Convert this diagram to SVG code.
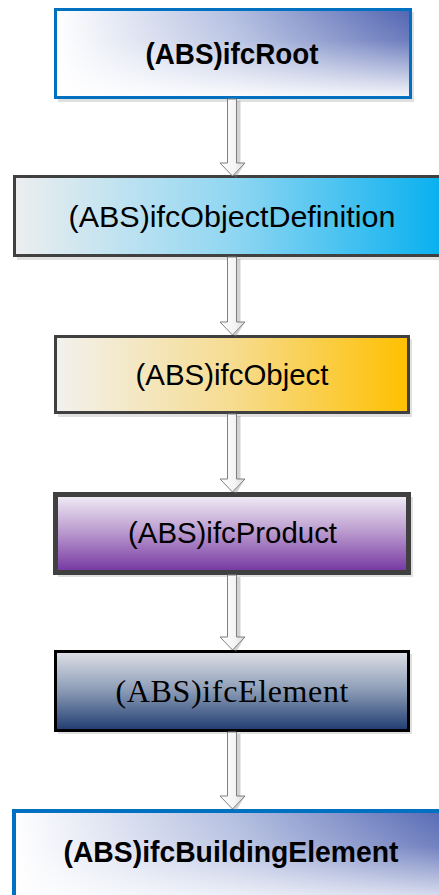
<svg xmlns="http://www.w3.org/2000/svg" width="439" height="895" viewBox="0 0 439 895">
  <style>
    .lbl { font-family: "Liberation Sans", Arial, sans-serif; font-size: 30px; fill: #000; text-anchor: middle; }
    .bold { font-weight: bold; font-size: 29px; }
    .serif { font-family: "Liberation Serif", "Times New Roman", serif; font-size: 32px; }
    .shadow { fill: #000; opacity: 0.12; }
    .arrow { fill: url(#gArrow); stroke: #7F7F7F; stroke-width: 1; }
    .ashadow { fill: #7F7F7F; opacity: 0.35; }
  </style>
  <defs>
    <linearGradient id="gBlueH" x1="0" y1="0" x2="1" y2="0">
      <stop offset="0" stop-color="#FFFFFF"/>
      <stop offset="0.5" stop-color="#B3BEE0"/>
      <stop offset="1" stop-color="#5265B2"/>
    </linearGradient>
    <linearGradient id="gWhiteV" x1="0" y1="0" x2="0" y2="1">
      <stop offset="0" stop-color="#FFFFFF" stop-opacity="0"/>
      <stop offset="0.35" stop-color="#FFFFFF" stop-opacity="0.15"/>
      <stop offset="1" stop-color="#FFFFFF" stop-opacity="0.95"/>
    </linearGradient>
    <linearGradient id="gCyan" x1="0" y1="0" x2="1" y2="0">
      <stop offset="0" stop-color="#ECEEEF"/>
      <stop offset="0.5" stop-color="#8FD6F2"/>
      <stop offset="1" stop-color="#00AEEF"/>
    </linearGradient>
    <linearGradient id="gGold" x1="0" y1="0" x2="1" y2="0">
      <stop offset="0" stop-color="#F2F1EE"/>
      <stop offset="0.5" stop-color="#F6DC90"/>
      <stop offset="1" stop-color="#FFC000"/>
    </linearGradient>
    <linearGradient id="gPurple" x1="0" y1="0" x2="0" y2="1">
      <stop offset="0" stop-color="#F3EFF7"/>
      <stop offset="0.5" stop-color="#B796CC"/>
      <stop offset="1" stop-color="#7335A1"/>
    </linearGradient>
    <linearGradient id="gNavy" x1="0" y1="0" x2="0" y2="1">
      <stop offset="0" stop-color="#DEE1E6"/>
      <stop offset="0.5" stop-color="#8A9AB5"/>
      <stop offset="1" stop-color="#1F3C70"/>
    </linearGradient>
    <linearGradient id="gArrow" x1="0" y1="0" x2="1" y2="0">
      <stop offset="0" stop-color="#FFFFFF"/>
      <stop offset="0.6" stop-color="#F4F4F4"/>
      <stop offset="1" stop-color="#D9D9D9"/>
    </linearGradient>
  </defs>

  <g id="node-ifcRoot">
    <rect class="shadow" x="58" y="12" width="356" height="90"/>
    <rect x="55.5" y="9.5" width="355" height="88" fill="url(#gBlueH)"/>
    <rect x="55.5" y="9.5" width="355" height="88" fill="url(#gWhiteV)" stroke="#0070C0" stroke-width="3"/>
    <text class="lbl bold" x="232" y="64" textLength="173" lengthAdjust="spacingAndGlyphs">(ABS)ifcRoot</text>
  </g>

  <g id="node-ifcObjectDefinition">
    <rect class="shadow" x="17" y="179" width="440" height="81"/>
    <rect x="14.5" y="176.5" width="440" height="79" fill="url(#gCyan)" stroke="#404040" stroke-width="3"/>
    <text class="lbl" x="232" y="227" textLength="327" lengthAdjust="spacingAndGlyphs">(ABS)ifcObjectDefinition</text>
  </g>

  <g id="node-ifcObject">
    <rect class="shadow" x="58" y="339" width="354" height="78"/>
    <rect x="55.5" y="336.5" width="353" height="76" fill="url(#gGold)" stroke="#404040" stroke-width="3"/>
    <text class="lbl" x="232" y="385" textLength="193" lengthAdjust="spacingAndGlyphs">(ABS)ifcObject</text>
  </g>

  <g id="node-ifcProduct">
    <rect class="shadow" x="58" y="497" width="355" height="80"/>
    <rect x="55.5" y="494.5" width="353" height="78" fill="url(#gPurple)" stroke="#404040" stroke-width="5"/>
    <text class="lbl" x="232.5" y="543" textLength="209" lengthAdjust="spacingAndGlyphs">(ABS)ifcProduct</text>
  </g>

  <g id="node-ifcElement">
    <rect class="shadow" x="58" y="654" width="354" height="80"/>
    <rect x="55.5" y="651.5" width="353" height="79" fill="url(#gNavy)" stroke="#000000" stroke-width="3"/>
    <text class="lbl serif" x="232" y="702" textLength="233" lengthAdjust="spacing">(ABS)ifcElement</text>
  </g>

  <g id="node-ifcBuildingElement">
    <rect x="14" y="811" width="440" height="100" fill="url(#gBlueH)"/>
    <rect x="14" y="811" width="440" height="100" fill="url(#gWhiteV)" stroke="#0070C0" stroke-width="4"/>
    <text class="lbl bold" x="231" y="862" textLength="335" lengthAdjust="spacingAndGlyphs">(ABS)ifcBuildingElement</text>
  </g>

  <g id="connectors">
    <g id="arrow-1">
      <path class="ashadow" d="M236.5,101 h4 v62 h4.5 l-9,15 l-3,-3 z"/>
      <path class="arrow" d="M227.5,99 h9 v64 h8.5 l-12.5,13 l-12.5,-13 h7.5 z"/>
    </g>
    <g id="arrow-2">
      <path class="ashadow" d="M236.5,259 h4 v63 h4.5 l-9,15 l-3,-3 z"/>
      <path class="arrow" d="M227.5,257 h9 v65 h8.5 l-12.5,13 l-12.5,-13 h7.5 z"/>
    </g>
    <g id="arrow-3">
      <path class="ashadow" d="M236.5,416 h4 v63 h4.5 l-9,15 l-3,-3 z"/>
      <path class="arrow" d="M227.5,414 h9 v65 h8.5 l-12.5,13 l-12.5,-13 h7.5 z"/>
    </g>
    <g id="arrow-4">
      <path class="ashadow" d="M236.5,577 h4 v60 h4.5 l-9,15 l-3,-3 z"/>
      <path class="arrow" d="M227.5,575 h9 v62 h8.5 l-12.5,13 l-12.5,-13 h7.5 z"/>
    </g>
    <g id="arrow-5">
      <path class="ashadow" d="M236.5,734 h4 v62 h4.5 l-9,15 l-3,-3 z"/>
      <path class="arrow" d="M227.5,732 h9 v64 h8.5 l-12.5,13 l-12.5,-13 h7.5 z"/>
    </g>
  </g>
</svg>
